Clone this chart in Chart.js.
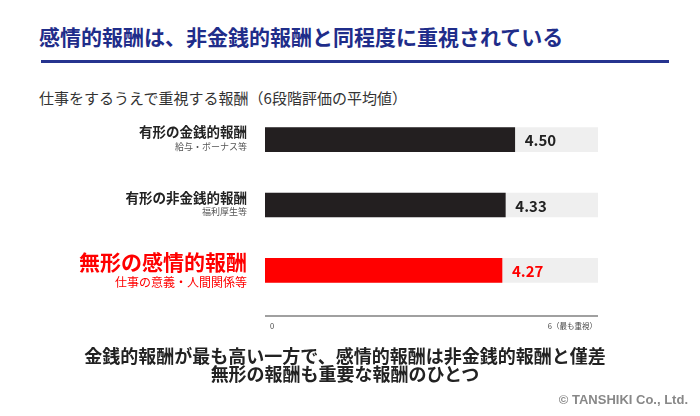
<!DOCTYPE html>
<html>
<head>
<meta charset="utf-8">
<script src="https://cdn.jsdelivr.net/npm/chart.js@4"></script>
<style>
    body { margin: 0; width: 700px; height: 416px; background: #fff; overflow: hidden; font-family: "Noto Sans CJK JP", sans-serif; }
    #wrap { position: relative; width: 700px; height: 416px; }
    #chart { position: absolute; left: 0; top: 0; }
    .txt { position: absolute; white-space: nowrap; }
    #title { left: 39px; top: 22px; font-size: 21px; font-weight: bold; color: #1f2d8a; line-height: 28px; }
    #rule { position: absolute; left: 41px; top: 60px; width: 628px; height: 3px; background: #26348f; }
    #subtitle { left: 39px; top: 87px; font-size: 15px; color: #333; line-height: 22px; }
    #summary { left: 0; width: 690px; top: 346px; text-align: center; font-size: 18px; font-weight: bold; color: #222; line-height: 18px; }
    #copy { right: 12px; top: 392px; font-family: "Liberation Sans", Arial, sans-serif; font-size: 13px; font-weight: bold; color: #888; }
</style>
</head>
<body>
<div id="wrap">
    <div id="title" class="txt">感情的報酬は、非金銭的報酬と同程度に重視されている</div>
    <div id="rule"></div>
    <div id="subtitle" class="txt">仕事をするうえで重視する報酬（6段階評価の平均値）</div>
    <canvas id="chart" width="700" height="416"></canvas>
    <div id="summary" class="txt">金銭的報酬が最も高い一方で、感情的報酬は非金銭的報酬と僅差<br>無形の報酬も重要な報酬のひとつ</div>
    <div id="copy" class="txt">© TANSHIKI Co., Ltd.</div>
</div>
<script>
// Data
const categories = ['有形の金銭的報酬', '有形の非金銭的報酬', '無形の感情的報酬'];
const subLabels = ['給与・ボーナス等', '福利厚生等', '仕事の意義・人間関係等'];
const scores = [4.50, 4.33, 4.27];
const scaleMax = 6;
const axisTicks = ['0', '6（最も重視）'];

const highlightIndex = 2; // emotional reward is shown in red
const barColors = categories.map((c, i) => i === highlightIndex ? '#ff0000' : '#231f20');

// Labels on the left, value labels and the bottom axis
const labelPlugin = {
    id: 'labels',
    afterDatasetsDraw(chart) {
        const ctx = chart.ctx;
        const x = chart.scales.x;
        const y = chart.scales.y;
        const font = 'Noto Sans CJK JP';
        ctx.save();

        categories.forEach((cat, i) => {
            const cy = y.getPixelForValue(i);
            const hot = i === highlightIndex;
            ctx.textAlign = 'right';
            ctx.textBaseline = 'middle';
            ctx.fillStyle = hot ? '#ff0000' : '#222';
            ctx.font = (hot ? 'bold 21px ' : 'bold 13.5px ') + font;
            ctx.fillText(cat, 247, cy - (hot ? 8 : 7.5));
            ctx.fillStyle = hot ? '#ff0000' : '#555';
            ctx.font = (hot ? '12px ' : '9px ') + font;
            ctx.fillText(subLabels[i], 247, cy + (hot ? 12 : 6.5));

            // value next to bar end
            ctx.textAlign = 'left';
            ctx.fillStyle = hot ? '#ff0000' : '#222';
            ctx.font = 'bold 15px ' + font;
            ctx.fillText(scores[i].toFixed(2), x.getPixelForValue(scores[i]) + 10, cy + 1);
        });

        // axis line below bars
        const ay = chart.chartArea.bottom + 13;
        ctx.strokeStyle = '#808080';
        ctx.lineWidth = 1.5;
        ctx.beginPath();
        ctx.moveTo(x.getPixelForValue(0), ay);
        ctx.lineTo(x.getPixelForValue(scaleMax), ay);
        ctx.stroke();

        ctx.fillStyle = '#444';
        ctx.font = '7.5px ' + font;
        ctx.textBaseline = 'middle';
        ctx.textAlign = 'left';
        ctx.fillText(axisTicks[0], x.getPixelForValue(0) + 5, ay + 10);
        ctx.textAlign = 'right';
        ctx.fillText(axisTicks[1], x.getPixelForValue(scaleMax) - 1, ay + 10);
        ctx.restore();
    }
};

new Chart(document.getElementById('chart'), {
    type: 'bar',
    data: {
        labels: categories,
        datasets: [{
            label: 'score',
            data: scores,
            backgroundColor: barColors,
            borderWidth: 0,
            barThickness: 24,
            grouped: false
        }, {
            label: 'track',
            data: categories.map(() => scaleMax),
            backgroundColor: '#efefef',
            borderWidth: 0,
            barThickness: 24,
            grouped: false
        }]
    },
    options: {
        indexAxis: 'y',
        responsive: false,
        animation: false,
        layout: {
            padding: { left: 265, right: 102, top: 107, bottom: 113 }
        },
        scales: {
            x: { display: false, min: 0, max: scaleMax },
            y: { display: false, offset: true }
        },
        plugins: {
            legend: { display: false },
            tooltip: { enabled: false }
        }
    },
    plugins: [labelPlugin]
});
</script>
</body>
</html>
